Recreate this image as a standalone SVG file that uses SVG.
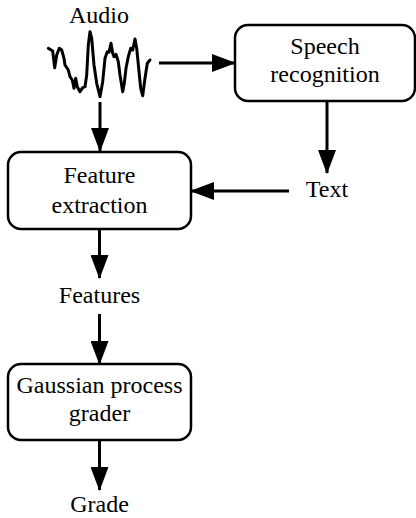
<svg xmlns="http://www.w3.org/2000/svg" width="416" height="518" viewBox="0 0 416 518">
<style>
text{font-family:"Liberation Serif","Times New Roman","DejaVu Serif",serif;font-size:24px;fill:#000;text-anchor:middle}
.box{fill:#fff;stroke:#000;stroke-width:2.5}
.c{stroke:#000;stroke-width:3;fill:none}
</style>
<defs>
<marker id="ah" markerWidth="24" markerHeight="18" refX="23" refY="9" orient="auto" markerUnits="userSpaceOnUse">
<path d="M0,0 L24,9 L0,18 Z" fill="#000"/>
</marker>
</defs>
<rect width="416" height="518" fill="#fff"/>
<g id="audio">
<text x="99" y="23" font-family="Liberation Serif, serif">Audio</text>
<polyline fill="none" stroke="#000" stroke-width="3" stroke-linejoin="round" stroke-linecap="round" points="48.3,48.3 52.7,51 54.7,67.7 56.7,55 59.3,48.3 61.7,50 64,58.3 65,65 68.3,70 70,76.7 72.3,80 74,88.3 75.7,78.3 77.3,86.7 80,91.7 82.7,87.7 85,86.7 86.7,75 88.3,45 90,31.7 91.7,38.3 94,65 96.7,83.3 100,96.7 102.7,81.7 105,58.3 107.3,51.7 109,52.3 111,43.3 112.7,53.3 114,56.7 116,54.3 118.3,61.7 120,75 122.7,91.7 124.3,83.3 126,68.3 128.3,56.7 130.7,48.3 132.7,50 135,39 136.7,48.3 138.7,68.3 140.7,88.3 142.7,95.7 145,78.3 147.3,63.3 150,60"/>
</g>
<g id="speech">
<rect class="box" x="235" y="25" width="180" height="76" rx="13"/>
<text x="325" y="54">Speech</text>
<text x="325" y="82">recognition</text>
</g>
<g id="text">
<text x="327" y="197">Text</text>
</g>
<g id="feature">
<rect class="box" x="8" y="152" width="183" height="77" rx="13"/>
<text x="99.5" y="183">Feature</text>
<text x="99.5" y="213">extraction</text>
</g>
<g id="features">
<text x="99.5" y="303">Features</text>
</g>
<g id="gp">
<rect class="box" x="8" y="364" width="183" height="76" rx="13"/>
<text x="99.5" y="393">Gaussian process</text>
<text x="99.5" y="421">grader</text>
</g>
<g id="grade">
<text x="99.5" y="512">Grade</text>
</g>
<g id="connectors">
<line class="c" x1="159" y1="63" x2="235" y2="63" marker-end="url(#ah)"/>
<line class="c" x1="100" y1="102" x2="100" y2="151" marker-end="url(#ah)"/>
<line class="c" x1="327" y1="101" x2="327" y2="173" marker-end="url(#ah)"/>
<line class="c" x1="289" y1="191" x2="191" y2="191" marker-end="url(#ah)"/>
<line class="c" x1="99.5" y1="229" x2="99.5" y2="278" marker-end="url(#ah)"/>
<line class="c" x1="99.5" y1="314" x2="99.5" y2="364" marker-end="url(#ah)"/>
<line class="c" x1="99.5" y1="440" x2="99.5" y2="490" marker-end="url(#ah)"/>
</g>
</svg>
